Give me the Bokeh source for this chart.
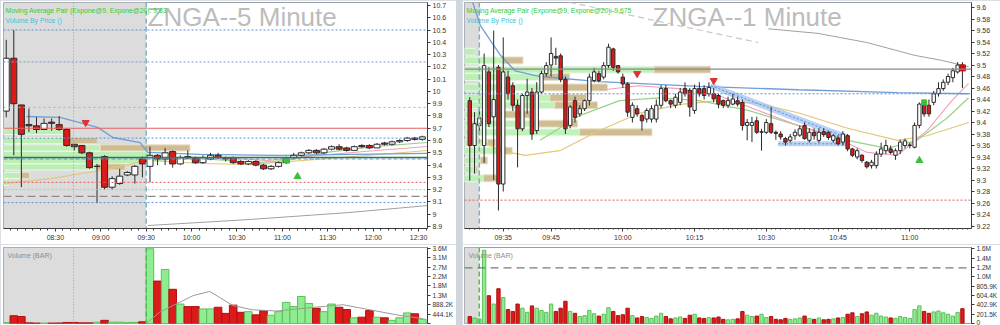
from bokeh.plotting import figure
from bokeh.layouts import row, column
from bokeh.models import ColumnDataSource, Range1d, FixedTicker, Label, Span, BoxAnnotation
from bokeh.embed import file_html
from bokeh.resources import INLINE


def tm(s):
    h, m = s.split(":")
    return int(h) * 60 + int(m)


def hhmm(v):
    return "%02d:%02d" % (v // 60, v % 60)

# ===================================================== 5-minute chart (left)
L_times = [hhmm(475 + 5 * i) for i in range(56)]          # 07:55 ... 12:30
L_open = [9.84, 10.27, 9.89, 9.73, 9.72, 9.69, 9.75, 9.73, 9.69, 9.57, 9.56, 9.50, 9.39, 9.47, 9.22, 9.25, 9.32, 9.32, 9.45,
          9.39, 9.48, 9.45, 9.51, 9.41, 9.47, 9.46,
          9.42, 9.45, 9.48, 9.46, 9.46, 9.43, 9.41, 9.43, 9.40, 9.37, 9.39, 9.42, 9.46, 9.48, 9.50, 9.52, 9.50, 9.53, 9.55, 9.54,
          9.52, 9.56, 9.56, 9.54, 9.58, 9.57, 9.59, 9.60, 9.62, 9.61]
L_high = [10.42, 10.50, 9.89, 9.86, 9.79, 9.78, 9.78, 9.80, 9.70, 9.57, 9.56, 9.51, 9.41, 9.48, 9.31, 9.37, 9.35, 9.40, 9.47,
          9.55, 9.49, 9.54, 9.52, 9.48, 9.52, 9.47,
          9.48, 9.50, 9.50, 9.47, 9.47, 9.44, 9.44, 9.44, 9.41, 9.40, 9.43, 9.47, 9.50, 9.51, 9.53, 9.53, 9.54, 9.56, 9.57, 9.55,
          9.56, 9.57, 9.57, 9.58, 9.59, 9.60, 9.61, 9.63, 9.63, 9.64]
L_low = [9.79, 9.48, 9.22, 9.67, 9.66, 9.69, 9.68, 9.68, 9.55, 9.52, 9.49, 9.37, 9.09, 9.20, 9.20, 9.24, 9.31, 9.25, 9.30,
         9.26, 9.40, 9.40, 9.38, 9.40, 9.45, 9.41,
         9.41, 9.44, 9.45, 9.43, 9.41, 9.40, 9.40, 9.39, 9.36, 9.36, 9.38, 9.41, 9.45, 9.47, 9.49, 9.49, 9.49, 9.52, 9.52, 9.51,
         9.52, 9.54, 9.53, 9.54, 9.56, 9.56, 9.58, 9.59, 9.60, 9.60]
L_close = [10.27, 9.90, 9.65, 9.72, 9.69, 9.74, 9.74, 9.69, 9.56, 9.55, 9.50, 9.38, 9.39, 9.22, 9.29, 9.31, 9.34, 9.39, 9.41,
           9.48, 9.45, 9.50, 9.41, 9.46, 9.46, 9.42,
           9.46, 9.48, 9.46, 9.45, 9.42, 9.41, 9.43, 9.40, 9.37, 9.39, 9.42, 9.46, 9.48, 9.50, 9.52, 9.50, 9.53, 9.55, 9.53, 9.52,
           9.55, 9.55, 9.54, 9.57, 9.57, 9.59, 9.60, 9.62, 9.61, 9.63]
L_volume = [40e3, 370e3, 330e3, 30e3, 20e3, 20e3, 20e3, 25e3, 50e3, 50e3, 30e3, 30e3, 60e3, 150e3, 60e3, 60e3, 40e3, 50e3, 80e3,
            3540e3, 2010e3, 2560e3, 1620e3, 920e3, 800e3, 800e3,
            690e3, 690e3, 770e3, 480e3, 870e3, 530e3, 560e3, 410e3, 610e3, 390e3, 560e3, 1000e3, 800e3, 1280e3, 950e3, 720e3,
            560e3, 920e3, 770e3, 660e3, 270e3, 300e3, 610e3, 300e3, 270e3, 150e3, 270e3, 500e3, 460e3, 200e3]
L_volma_t = ["09:30", "09:39", "09:48", "10:01", "10:12", "10:27", "10:40", "10:56", "11:11", "11:40", "12:17", "12:33"]
L_volma_v = [0, 540e3, 860e3, 1320e3, 1520e3, 860e3, 650e3, 590e3, 700e3, 890e3, 390e3, 230e3]

L_blue_t = ["08:11", "08:33", "08:58", "09:08", "09:26", "09:31", "10:06", "10:58", "12:36"]
L_blue_v = [9.796, 9.788, 9.707, 9.625, 9.584, 9.503, 9.487, 9.479, 9.495]
L_tan_t = ["07:56", "08:27", "09:00", "09:31", "10:06", "10:38", "11:31", "12:36"]
L_tan_v = [9.25, 9.29, 9.356, 9.438, 9.413, 9.405, 9.454, 9.519]
L_green_t = ["09:31", "10:04", "10:43", "11:03", "11:29", "12:02", "12:36"]
L_green_v = [9.438, 9.454, 9.421, 9.438, 9.503, 9.552, 9.584]
L_pink_t = ["09:31", "10:17", "10:50", "11:23", "12:02", "12:36"]
L_pink_v = [9.454, 9.462, 9.438, 9.478, 9.519, 9.552]
L_grey_t = ["09:31", "10:38", "11:44", "12:36"]
L_grey_v = [8.908, 8.957, 9.014, 9.071]

L_vbp_price = [9.674, 9.60, 9.54, 9.487, 9.438, 9.385, 9.316, 9.26]
L_vbp_up = [64, 64, 97, 147, 147, 92, 17, 5]
L_vbp_down = [0, 30, 90, 0, 0, 30, 9, 0]

L_xtick_labels = ["08:30", "09:00", "09:30", "10:00", "10:30", "11:00", "11:30", "12:00", "12:30"]
L_price_ticks = [round(8.9 + 0.1 * i, 1) for i in range(19)]
L_price_labels = ["8.9", "9", "9.1", "9.2", "9.3", "9.4", "9.5", "9.6", "9.7", "9.8", "9.9", "10",
                  "10.1", "10.2", "10.3", "10.4", "10.5", "10.6", "10.7"]
L_vol_ticks = [0, 444.1e3, 888.2e3, 1332.3e3, 1776.4e3, 2220.5e3, 2664.6e3, 3108.7e3, 3552.8e3]
L_vol_labels = ["", "444.1K", "888.2K", "1.3M", "1.8M", "2.2M", "2.7M", "3.1M", "3.6M"]

# ===================================================== 1-minute chart (right)
R_times = [hhmm(568 + i) for i in range(104)]            # 09:28 ... 11:11
R_open = [9.438, 9.36, 9.395, 9.36, 9.488, 9.41, 9.496, 9.293, 9.479, 9.464, 9.43, 9.389, 9.447, 9.453, 9.386, 9.453,
          9.485, 9.50, 9.515, 9.516, 9.475, 9.395, 9.438, 9.415, 9.424, 9.438, 9.473, 9.485, 9.479, 9.499, 9.528, 9.499,
          9.479, 9.467, 9.409, 9.424, 9.412, 9.406, 9.406, 9.406, 9.43, 9.459, 9.438, 9.43, 9.435, 9.459, 9.456, 9.421,
          9.459, 9.459, 9.45, 9.45, 9.447, 9.438, 9.43, 9.432, 9.438, 9.435, 9.395, 9.395, 9.403, 9.383, 9.383, 9.398,
          9.383, 9.38, 9.372, 9.369, 9.377, 9.378, 9.395, 9.369, 9.383, 9.369, 9.384, 9.383, 9.369, 9.373, 9.366, 9.377,
          9.354, 9.34, 9.343, 9.331, 9.325, 9.325, 9.345, 9.351, 9.354, 9.343, 9.351, 9.36,
          9.36, 9.357, 9.395, 9.435, 9.43, 9.435, 9.45, 9.459, 9.47, 9.478, 9.488, 9.50]
R_high = [9.444, 9.418, 9.427, 9.52, 9.496, 9.56, 9.50, 9.548, 9.49, 9.47, 9.44, 9.45, 9.476, 9.46, 9.47, 9.49,
          9.505, 9.548, 9.53, 9.52, 9.48, 9.43, 9.445, 9.43, 9.44, 9.485, 9.495, 9.49, 9.505, 9.537, 9.53, 9.50,
          9.485, 9.47, 9.435, 9.43, 9.415, 9.425, 9.43, 9.44, 9.465, 9.465, 9.44, 9.45, 9.46, 9.47, 9.46, 9.466,
          9.47, 9.465, 9.47, 9.46, 9.45, 9.44, 9.445, 9.45, 9.445, 9.44, 9.406, 9.41, 9.41, 9.389, 9.406, 9.427,
          9.386, 9.385, 9.375, 9.38, 9.388, 9.395, 9.40, 9.39, 9.39, 9.39, 9.39, 9.385, 9.38, 9.378, 9.385, 9.38,
          9.356, 9.355, 9.345, 9.333, 9.335, 9.35, 9.365, 9.37, 9.36, 9.355, 9.37, 9.372,
          9.365, 9.40, 9.435, 9.44, 9.44, 9.455, 9.47, 9.475, 9.485, 9.495, 9.505, 9.505]
R_low = [9.299, 9.311, 9.38, 9.33, 9.392, 9.30, 9.247, 9.28, 9.44, 9.42, 9.322, 9.385, 9.415, 9.37, 9.38, 9.45,
         9.48, 9.48, 9.50, 9.47, 9.38, 9.39, 9.40, 9.41, 9.42, 9.43, 9.47, 9.47, 9.475, 9.495, 9.49, 9.485,
         9.46, 9.41, 9.40, 9.41, 9.386, 9.40, 9.40, 9.40, 9.425, 9.435, 9.425, 9.425, 9.43, 9.445, 9.41, 9.415,
         9.445, 9.44, 9.445, 9.435, 9.425, 9.425, 9.425, 9.43, 9.428, 9.386, 9.369, 9.366, 9.38, 9.351, 9.38, 9.38,
         9.37, 9.37, 9.36, 9.365, 9.37, 9.375, 9.37, 9.365, 9.37, 9.365, 9.375, 9.37, 9.365, 9.36, 9.36, 9.35,
         9.34, 9.336, 9.33, 9.32, 9.32, 9.32, 9.34, 9.345, 9.345, 9.335, 9.345, 9.355,
         9.355, 9.355, 9.39, 9.41, 9.41, 9.43, 9.445, 9.455, 9.465, 9.47, 9.485, 9.46]
R_close = [9.36, 9.398, 9.408, 9.499, 9.398, 9.44, 9.293, 9.488, 9.45, 9.43, 9.389, 9.447, 9.453, 9.38, 9.453, 9.485,
           9.499, 9.52, 9.512, 9.475, 9.389, 9.427, 9.409, 9.424, 9.438, 9.479, 9.488, 9.473, 9.499, 9.531, 9.496, 9.488,
           9.467, 9.418, 9.43, 9.415, 9.403, 9.421, 9.424, 9.43, 9.459, 9.438, 9.432, 9.444, 9.453, 9.45, 9.427, 9.459,
           9.45, 9.447, 9.461, 9.441, 9.432, 9.43, 9.438, 9.441, 9.432, 9.395, 9.40, 9.40, 9.383, 9.384, 9.40, 9.383,
           9.381, 9.375, 9.366, 9.375, 9.383, 9.389, 9.372, 9.383, 9.377, 9.383, 9.379, 9.374, 9.377, 9.363, 9.38, 9.354,
           9.343, 9.351, 9.334, 9.323, 9.331, 9.345, 9.354, 9.36, 9.348, 9.351, 9.366, 9.368,
           9.361, 9.395, 9.432, 9.415, 9.415, 9.45, 9.459, 9.47, 9.48, 9.49, 9.50, 9.492]
R_volume = [150e3, 120e3, 100e3, 1580e3, 600e3, 420e3, 750e3, 560e3, 300e3, 260e3, 420e3, 330e3, 240e3, 380e3, 330e3, 280e3,
            240e3, 420e3, 260e3, 330e3, 480e3, 260e3, 220e3, 150e3, 170e3, 280e3, 210e3, 160e3, 200e3, 340e3, 260e3, 170e3,
            190e3, 330e3, 170e3, 120e3, 150e3, 130e3, 110e3, 160e3, 220e3, 150e3, 100e3, 120e3, 140e3, 110e3, 180e3, 200e3,
            120e3, 110e3, 130e3, 120e3, 140e3, 90e3, 80e3, 90e3, 100e3, 260e3, 180e3, 150e3, 160e3, 200e3, 130e3, 150e3,
            90e3, 80e3, 110e3, 90e3, 100e3, 120e3, 160e3, 110e3, 90e3, 120e3, 80e3, 90e3, 100e3, 120e3, 130e3, 200e3,
            230e3, 150e3, 210e3, 250e3, 180e3, 220e3, 160e3, 140e3, 120e3, 110e3, 150e3, 130e3,
            110e3, 300e3, 380e3, 260e3, 220e3, 250e3, 270e3, 230e3, 200e3, 160e3, 240e3, 320e3]

R_blue_t = [568.6, 570.2, 572.3, 574.4, 577.5, 582.7, 595.1, 615.9, 636.6, 657.4, 672.3]
R_blue_v = [9.609, 9.569, 9.543, 9.517, 9.49, 9.48, 9.471, 9.463, 9.457, 9.452, 9.450]
R_tan_t = [570.2, 574.4, 579.6, 586.8, 595.1, 603.4, 611.7, 620.0, 628.3, 636.6, 647.0, 657.4, 663.6, 672.3]
R_tan_v = [9.369, 9.351, 9.343, 9.351, 9.386, 9.416, 9.431, 9.438, 9.433, 9.417, 9.39, 9.369, 9.377, 9.40]
R_green_t = [582.7, 591.0, 599.3, 607.6, 615.9, 626.2, 636.6, 647.0, 655.3, 661.5, 667.7, 672.3]
R_green_v = [9.369, 9.412, 9.438, 9.443, 9.438, 9.421, 9.395, 9.369, 9.355, 9.369, 9.407, 9.443]
R_pink_t = [595.1, 603.4, 611.7, 620.0, 628.3, 636.6, 644.9, 651.1, 657.4, 663.6, 668.8, 672.3]
R_pink_v = [9.456, 9.464, 9.459, 9.447, 9.421, 9.395, 9.372, 9.348, 9.343, 9.386, 9.438, 9.468]
R_grey_t = [630.4, 640.8, 651.1, 660.9, 666.7, 672.3]
R_grey_v = [9.563, 9.555, 9.539, 9.517, 9.508, 9.497]
R_dash_t = [588.9, 628.3]
R_dash_v = [9.609, 9.539]
R_trend_t = [618.4, 647.4]
R_trend_v = [9.464, 9.372]
R_base_t = [632.5, 646.6]
R_base_v = [9.363, 9.363]

R_vbp_price = [9.523, 9.508, 9.492, 9.479, 9.461, 9.443, 9.43, 9.414, 9.398, 9.383, 9.365, 9.351, 9.334, 9.318, 9.303]
R_vbp_up = [11, 39, 191, 76, 76, 86, 91, 39, 74, 116, 23, 39, 16, 11, 19]
R_vbp_down = [0, 20, 57, 30, 68, 37, 43, 27, 40, 73, 8, 9, 7, 2, 14]

R_xtick_labels = ["09:35", "09:45", "10:00", "10:15", "10:30", "10:45", "11:00"]
R_price_ticks = [round(9.22 + 0.02 * i, 2) for i in range(20)]
R_price_labels = ["9.22", "9.24", "9.26", "9.28", "9.3", "9.32", "9.34", "9.36", "9.38", "9.4", "9.42", "9.44",
                  "9.46", "9.48", "9.5", "9.52", "9.54", "9.56", "9.58", "9.6"]
R_vol_ticks = [0, 201.5e3, 402.9e3, 604.4e3, 805.9e3, 1007.4e3, 1208.8e3, 1410.3e3, 1611.8e3]
R_vol_labels = ["0", "201.5K", "402.9K", "604.4K", "805.9K", "1.0M", "1.2M", "1.4M", "1.6M"]

# ===================================================== styling helpers
AX = "#3a3a3a"
RED = "#dd1a1a"
GREEN_BAR = "#90ec90"


def style_axis(ax, size="7px"):
    ax.major_label_text_font_size = size
    ax.major_label_text_font = "Liberation Sans"
    ax.major_label_text_color = "#333333"
    ax.axis_line_color = AX
    ax.major_tick_line_color = AX
    ax.minor_tick_line_color = AX
    ax.major_tick_out = 3
    ax.major_tick_in = 0
    ax.minor_tick_out = 2
    ax.minor_tick_in = 0
    ax.major_label_standoff = 2


def base_fig(w, h, xr, yr, mbl, mbr, mbt, mbb, xaxis=True):
    p = figure(width=w, height=h, x_range=xr, y_range=yr, y_axis_location="right",
               x_axis_location="below" if xaxis else None,
               output_backend="svg", toolbar_location=None,
               min_border_left=mbl, min_border_right=mbr, min_border_top=mbt, min_border_bottom=mbb)
    p.xgrid.visible = False
    p.ygrid.visible = False
    p.background_fill_color = "white"
    p.border_fill_color = "white"
    p.outline_line_color = "#9aa0a6"
    return p


def draw_candles(p, xs, o, h, l, c, w):
    src = ColumnDataSource(dict(
        x=xs, high=h, low=l,
        top=[max(a, b) for a, b in zip(o, c)],
        bottom=[min(a, b) for a, b in zip(o, c)],
        fill=["white" if cc >= oo else RED for oo, cc in zip(o, c)]))
    p.segment(x0="x", y0="high", x1="x", y1="low", source=src, line_color="#2a2a2a", line_width=1)
    p.vbar(x="x", top="top", bottom="bottom", width=w, fill_color="fill", line_color="#2a2a2a",
           line_width=1, source=src)


def draw_volume(p, xs, v, o, c, w):
    src = ColumnDataSource(dict(
        x=xs, top=v,
        fill=[GREEN_BAR if cc >= oo else RED for oo, cc in zip(o, c)],
        line=["#5cbf5c" if cc >= oo else "#b01010" for oo, cc in zip(o, c)]))
    p.vbar(x="x", top="top", bottom=0, width=w, fill_color="fill", line_color="line", source=src)


def frame_text(p, x, y, text, color, size, font="Liberation Sans", style="normal"):
    p.add_layout(Label(x=x, y=y, x_units="screen", y_units="screen", text=text, text_color=color,
                       text_font_size=size, text_font=font, text_baseline="top", text_font_style=style))

# ===================================================== LEFT price
LX0, LX1 = 475.7, 755.9
lp = base_fig(456, 244, Range1d(LX0, LX1), Range1d(8.884, 10.724), 3, 28, 2, 16)
lp.extra_x_ranges = {"vbp": Range1d(0, 425)}
lx = [tm(t) + 2.5 for t in L_times]

lp.add_layout(BoxAnnotation(right=tm("09:30"), fill_color="#dcdcdc", fill_alpha=1.0, line_alpha=0, level="underlay"))
lp.add_layout(Span(location=tm("08:42"), dimension="height", line_color="#9a9a9a", line_dash="1 2", line_width=1))
lp.add_layout(Span(location=tm("09:30"), dimension="height", line_color="#7fb0c0", line_dash="5 3", line_width=1.5))

lp.hbar(y=L_vbp_price, left=0, right=L_vbp_up, height=0.05, fill_color="#b8f0b0", line_color="#e8f8e8",
        fill_alpha=0.9, x_range_name="vbp")
lp.hbar(y=L_vbp_price, left=L_vbp_up, right=[a + b for a, b in zip(L_vbp_up, L_vbp_down)], height=0.05,
        fill_color="#cdb88c", line_color="#e8e0c8", fill_alpha=0.95, x_range_name="vbp")

for loc, col, dash, lw in [(10.5, "#5b8fd6", "2 2", 1), (10.24, "#7a9cc6", "2 2", 1), (9.87, "#b0b0b0", "2 3", 1),
                           (9.70, "#e06060", "solid", 1.2), (9.62, "#5b8fd6", "2 2", 1), (9.462, "#2e7d32", "solid", 1.3),
                           (9.45, "#5b8fd6", "4 2", 1), (9.26, "#e05a5a", "2 2", 1), (9.20, "#9ad28a", "2 2", 1),
                           (9.145, "#8a8a8a", "8 4", 1.3), (9.095, "#5b8fd6", "2 2", 1)]:
    lp.add_layout(Span(location=loc, dimension="width", line_color=col, line_dash=dash, line_width=lw))

lp.line([tm(t) for t in L_grey_t], L_grey_v, line_color="#a0a0a0", line_width=1)
lp.line([tm(t) for t in L_tan_t], L_tan_v, line_color="#e2c878", line_width=1.2)
lp.line([tm(t) for t in L_green_t], L_green_v, line_color="#9ad28a", line_width=1.2)
lp.line([tm(t) for t in L_pink_t], L_pink_v, line_color="#f0a0b8", line_width=1.1)
lp.line([tm(t) for t in L_blue_t], L_blue_v, line_color="#6f9fd8", line_width=1.3)

draw_candles(lp, lx, L_open, L_high, L_low, L_close, 4.0)

lp.scatter([tm("08:50")], [9.747], marker="inverted_triangle", size=7, color="#e03030")
lp.scatter([tm("11:10")], [9.307], marker="triangle", size=7, color="#3cc03c")
lp.scatter([tm("11:03")], [9.438], marker="square", size=5, color="#3cc03c")

lp.xaxis.ticker = FixedTicker(ticks=[tm(t) for t in L_xtick_labels], minor_ticks=list(range(480, 756, 5)))
lp.xaxis.major_label_overrides = {tm(t): t for t in L_xtick_labels}
lp.yaxis.ticker = FixedTicker(ticks=L_price_ticks, minor_ticks=[])
lp.yaxis.major_label_overrides = dict(zip(L_price_ticks, L_price_labels))
style_axis(lp.xaxis[0])
style_axis(lp.yaxis[0])

frame_text(lp, 144, 227, "ZNGA--5 Minute", "#bcbcbc", "26px")
frame_text(lp, 2, 222, "Moving Average Pair (Expone@9, Expone@20): 9.63", "#33cc33", "6.8px")
frame_text(lp, 2, 212, "Volume By Price ()", "#38c4e0", "6.8px")

# ===================================================== LEFT volume
lv = base_fig(456, 81, lp.x_range, Range1d(0, 3.6e6), 3, 28, 3, 2, xaxis=False)
lv.add_layout(BoxAnnotation(right=tm("09:30"), fill_color="#dcdcdc", fill_alpha=1.0, line_alpha=0, level="underlay"))
lv.add_layout(Span(location=tm("08:42"), dimension="height", line_color="#9a9a9a", line_dash="1 2", line_width=1))
lv.add_layout(Span(location=tm("09:30"), dimension="height", line_color="#4cc04c", line_dash="5 3", line_width=1.5))
draw_volume(lv, lx, L_volume, L_open, L_close, 5.0)
lv.line([tm(t) for t in L_volma_t], L_volma_v, line_color="#9a9a9a", line_width=1)
lv.yaxis.ticker = FixedTicker(ticks=L_vol_ticks, minor_ticks=[])
lv.yaxis.major_label_overrides = dict(zip(L_vol_ticks, L_vol_labels))
style_axis(lv.yaxis[0], "6.5px")
frame_text(lv, 4, 72, "Volume (BAR)", "#8c8c8c", "7px")

# ===================================================== RIGHT price
RX0, RX1 = 566.9, 672.9
rp = base_fig(538, 244, Range1d(RX0, RX1), Range1d(9.2157, 9.6087), 2, 25, 2, 16)
rp.extra_x_ranges = {"vbp": Range1d(0, 511)}
rx = [tm(t) for t in R_times]

rp.add_layout(BoxAnnotation(right=tm("09:30"), fill_color="#dcdcdc", fill_alpha=1.0, line_alpha=0, level="underlay"))
rp.add_layout(Span(location=tm("09:30"), dimension="height", line_color="#7fb0c0", line_dash="5 3", line_width=1.5))

rp.hbar(y=R_vbp_price, left=0, right=R_vbp_up, height=0.012, fill_color="#b8f0b0", line_color="#e8f8e8",
        fill_alpha=0.9, x_range_name="vbp")
rp.hbar(y=R_vbp_price, left=R_vbp_up, right=[a + b for a, b in zip(R_vbp_up, R_vbp_down)], height=0.012,
        fill_color="#cdb88c", line_color="#e8e0c8", fill_alpha=0.95, x_range_name="vbp")

for loc, col, dash, lw in [(9.493, "#8a8a8a", "solid", 1.3), (9.45, "#5b8fd6", "2 2", 1), (9.265, "#e05a5a", "2 2", 1)]:
    rp.add_layout(Span(location=loc, dimension="width", line_color=col, line_dash=dash, line_width=lw))

rp.line(R_dash_t, R_dash_v, line_color="#c8c8c8", line_dash="6 4", line_width=1.2)
rp.line(R_grey_t, R_grey_v, line_color="#a0a0a0", line_width=1)
rp.line(R_tan_t, R_tan_v, line_color="#e2c878", line_width=1.2)
rp.line(R_green_t, R_green_v, line_color="#9ad28a", line_width=1.2)
rp.line(R_pink_t, R_pink_v, line_color="#f0a0b8", line_width=1.1)
rp.line(R_blue_t, R_blue_v, line_color="#6f9fd8", line_width=1.3)
rp.line(R_trend_t, R_trend_v, line_color="#9cc0f0", line_width=6, line_alpha=0.7)
rp.line(R_trend_t, R_trend_v, line_color="#5b8fd6", line_width=1, line_dash="2 2")
rp.line(R_base_t, R_base_v, line_color="#9cc0f0", line_width=5, line_alpha=0.7)
rp.line(R_base_t, R_base_v, line_color="#5b8fd6", line_width=1, line_dash="2 2")

draw_candles(rp, rx, R_open, R_high, R_low, R_close, 0.7)

rp.scatter([tm("10:03"), tm("10:19")], [9.485, 9.473], marker="inverted_triangle", size=7, color="#e03030")
rp.scatter([tm("11:02")], [9.334], marker="triangle", size=7, color="#3cc03c")
rp.scatter([tm("11:03")], [9.435], marker="square", size=5, color="#3cc03c")
rp.scatter([tm("11:11")], [9.495], marker="square", size=6, color="#cc1010")

rp.xaxis.ticker = FixedTicker(ticks=[tm(t) for t in R_xtick_labels], minor_ticks=list(range(568, 673, 1)))
rp.xaxis.major_label_overrides = {tm(t): t for t in R_xtick_labels}
rp.yaxis.ticker = FixedTicker(ticks=R_price_ticks, minor_ticks=[])
rp.yaxis.major_label_overrides = dict(zip(R_price_ticks, R_price_labels))
style_axis(rp.xaxis[0])
style_axis(rp.yaxis[0])
rp.xaxis[0].minor_tick_out = 1

frame_text(rp, 188, 227, "ZNGA--1 Minute", "#bcbcbc", "26px")
frame_text(rp, 2, 222, "Moving Average Pair (Expone@9, Expone@20): 9.675", "#33cc33", "6.8px")
frame_text(rp, 2, 212, "Volume By Price ()", "#38c4e0", "6.8px")

# ===================================================== RIGHT volume
rv = base_fig(538, 81, rp.x_range, Range1d(0, 1.64e6), 2, 25, 3, 2, xaxis=False)
rv.add_layout(BoxAnnotation(right=tm("09:30"), fill_color="#dcdcdc", fill_alpha=1.0, line_alpha=0, level="underlay"))
rv.add_layout(Span(location=tm("09:30"), dimension="height", line_color="#4cc04c", line_dash="5 3", line_width=1.5))
rv.add_layout(Span(location=1.2e6, dimension="width", line_color="#7a7a7a", line_dash="8 5", line_width=1.2))
draw_volume(rv, rx, R_volume, R_open, R_close, 0.7)
rv.yaxis.ticker = FixedTicker(ticks=R_vol_ticks, minor_ticks=[])
rv.yaxis.major_label_overrides = dict(zip(R_vol_ticks, R_vol_labels))
style_axis(rv.yaxis[0], "6.5px")
frame_text(rv, 4, 72, "Volume (BAR)", "#8c8c8c", "7px")

layout = row(column(lp, lv, spacing=0), column(rp, rv, spacing=0), spacing=6,
             styles={"background-color": "#cfd6de"})

open("out.html", "w").write(file_html(layout, INLINE))
